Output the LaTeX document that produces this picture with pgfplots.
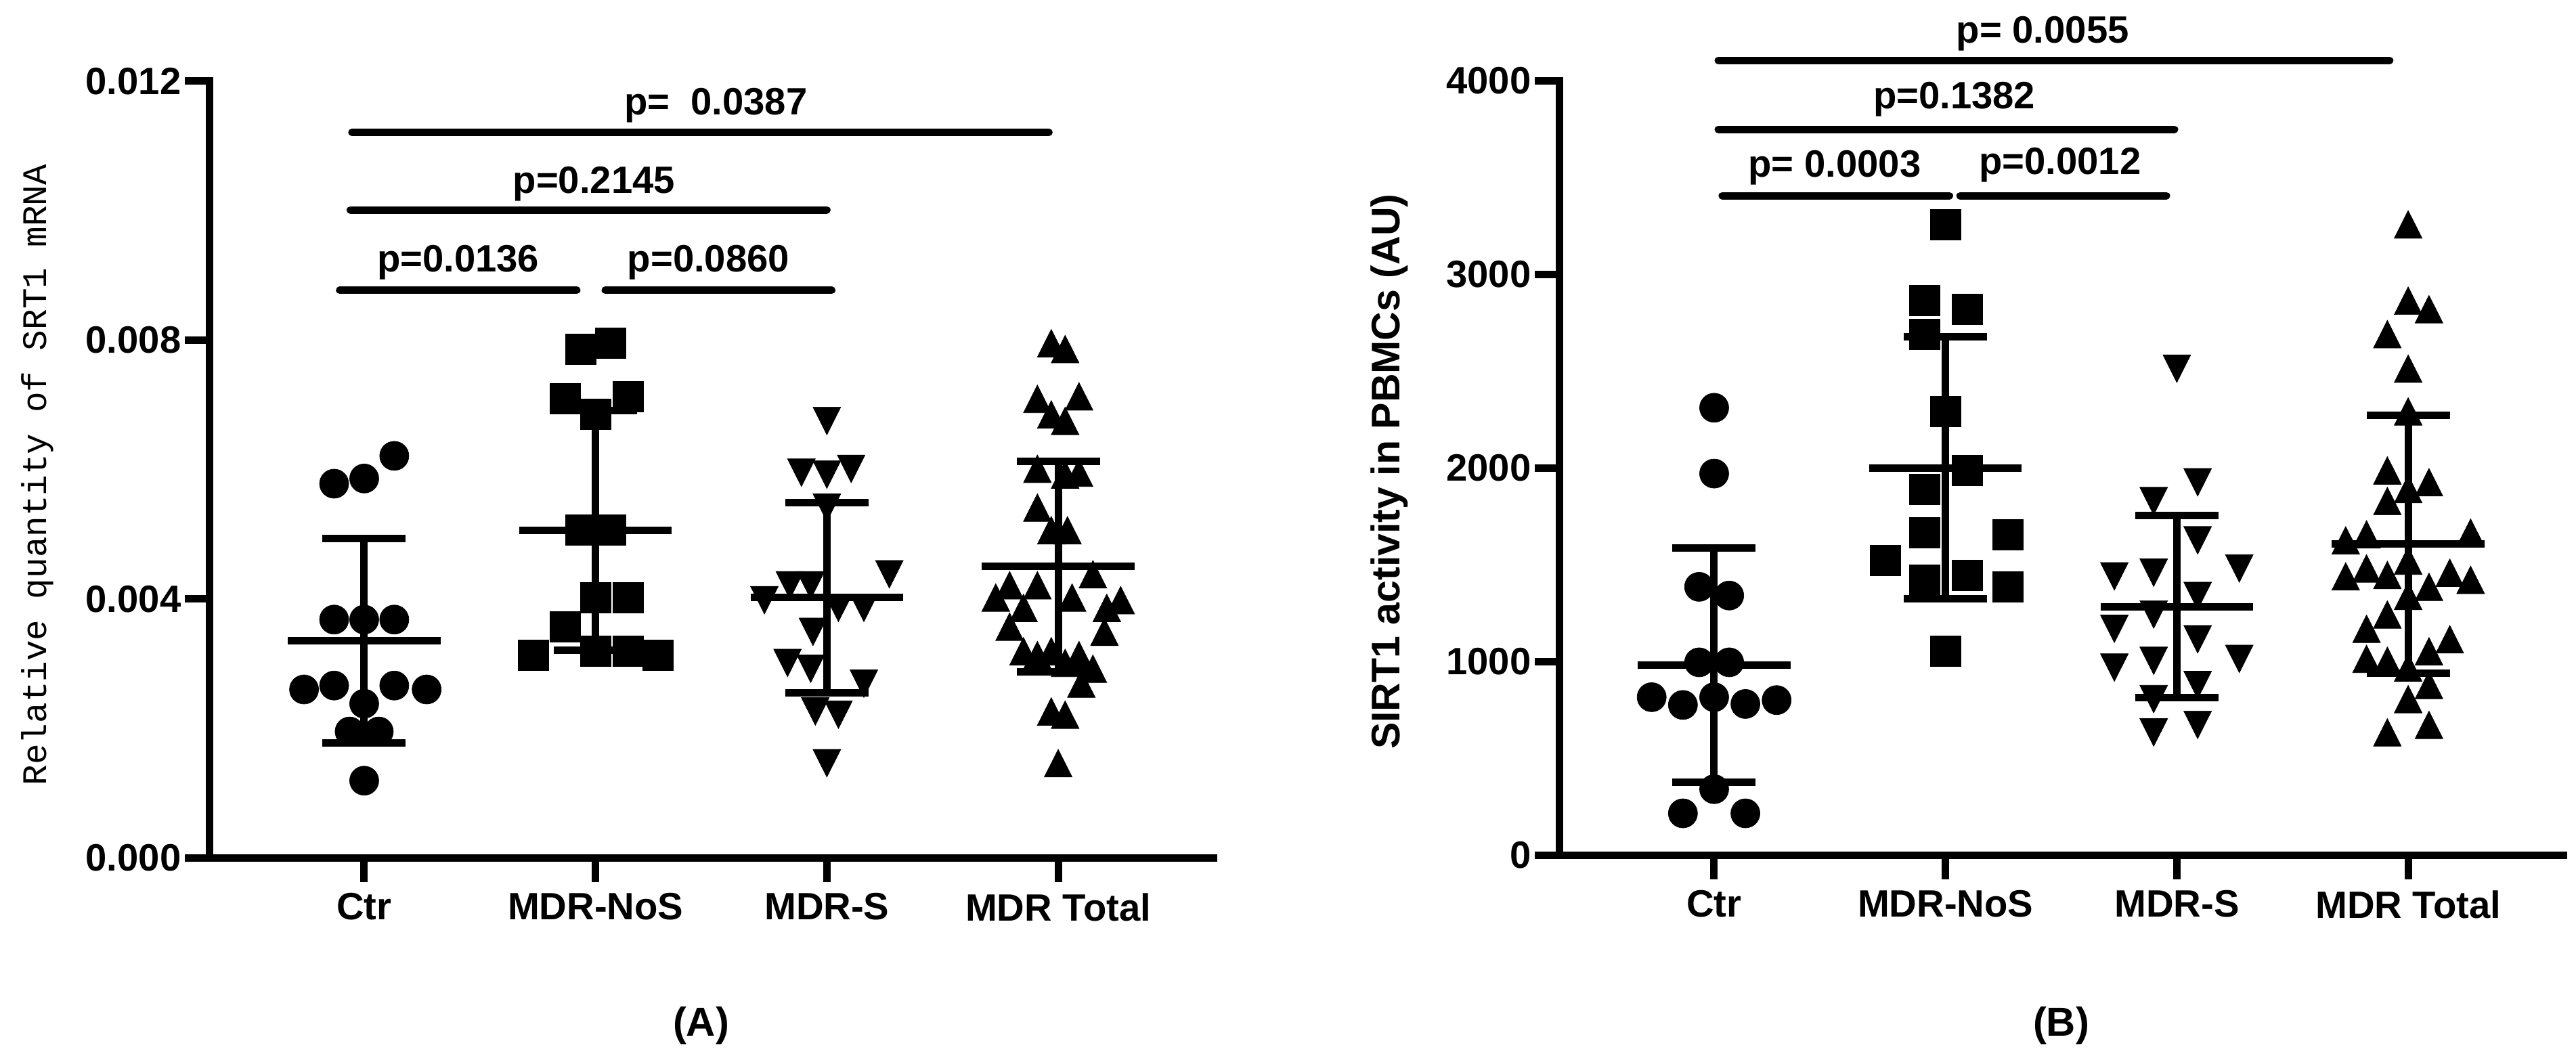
\documentclass[border=0pt]{standalone}
\usepackage{fontspec}
\setmainfont{Liberation Sans}
\newfontfamily\monofont{Liberation Mono}
\usepackage{pgfplots}
\pgfplotsset{compat=1.18}
\usetikzlibrary{plotmarks}

\newcommand{\lbl}{\fontsize{16}{19}\selectfont\bfseries}

\pgfplotsset{
  gp/.style={
    scale only axis, width=148.3mm,
    xmin=0.33, xmax=4.67, ymin=0,
    axis lines=left,
    axis line style={-, line width=1.1mm, line cap=rect},
    xtick={1,2,3,4},
    xticklabels={\textbf{Ctr},\textbf{MDR-NoS},\textbf{MDR-S},\textbf{MDR Total}},
    tick align=outside, major tick length=3.6mm,
    tick style={line width=1.1mm, black},
    ticklabel style={font=\lbl},
    xticklabel style={inner sep=0pt, yshift=-1.6mm},
    yticklabel style={inner sep=0.5mm},
    scaled y ticks=false,
    clip=false,
  },
  dot/.style={only marks, mark=*, mark size=2.15mm,
    mark options={fill=black, draw=black, line width=0.2pt}},
  sq/.style={only marks, mark=square*, mark size=2.25mm,
    mark options={fill=black, draw=black, line width=0.2pt}},
  tup/.style={only marks, mark=triangle*, mark size=2.37mm,
    mark options={yshift=-0.68mm, yscale=1.15, fill=black, draw=black, line width=0.2pt}},
  tdn/.style={only marks, mark=triangle*, mark size=2.37mm,
    mark options={yshift=0.68mm, rotate=180, yscale=1.15, fill=black, draw=black, line width=0.2pt}},
  bar/.style={line width=1.1mm, mark=none, black},
  sig/.style={line width=1.1mm, line cap=round, mark=none, black},
}

\begin{document}
\begin{tikzpicture}
\useasboundingbox (0,-28.9mm) rectangle (380.5mm,126.7mm);

% ---------------- (A) ----------------
\begin{axis}[gp, at={(30.9mm,0mm)}, anchor=south west,
  height=114.7mm, ymax=0.012,
  ytick={0,0.004,0.008,0.012},
  yticklabels={\textbf{0.000},\textbf{0.004},\textbf{0.008},\textbf{0.012}},
  ylabel={Relative quantity of SRT1 mRNA},
  every axis y label/.style={at={(axis description cs:-0.171,0.493)},
    rotate=90, anchor=center, font=\monofont\fontsize{14.5}{17}\selectfont},
]
% Ctr
\addplot[dot] coordinates {
 (0.87,0.00578) (1.00,0.00586) (1.13,0.00621)
 (0.87,0.00368) (1.00,0.00368) (1.13,0.00368)
 (0.74,0.00260) (0.87,0.00266) (1.13,0.00266) (1.27,0.00260)
 (1.00,0.00238) (0.937,0.00195) (1.063,0.00195) (1.00,0.00119)};
% MDR-NoS
\addplot[sq] coordinates {
 (1.935,0.00786) (2.065,0.00795) (1.87,0.00709) (2.14,0.00713) (2.00,0.00685)
 (1.935,0.00506) (2.065,0.00506) (2.00,0.00402) (2.14,0.00402) (1.87,0.00357)
 (1.73,0.00313) (2.00,0.00319) (2.14,0.00319) (2.27,0.00313)};
% MDR-S
\addplot[tdn] coordinates {
 (3.00,0.00675) (2.89,0.00595) (3.00,0.00592) (3.105,0.00601) (3.00,0.00541)
 (3.27,0.00438) (2.73,0.00398) (2.84,0.00421) (2.93,0.00421) (3.05,0.00386)
 (3.16,0.00386) (2.94,0.00349) (2.83,0.00301) (2.93,0.00292) (3.16,0.00269)
 (2.95,0.00226) (3.05,0.00221) (3.00,0.00146)};
% MDR Total
\addplot[tup] coordinates {
 (3.97,0.00795) (4.03,0.00786) (4.09,0.00713) (3.91,0.00709) (3.97,0.00685)
 (4.03,0.00675) (3.91,0.00601) (4.09,0.00595) (4.03,0.00592) (3.91,0.00541)
 (3.97,0.00506) (4.04,0.00506) (4.15,0.00438) (3.91,0.00421) (3.79,0.00421)
 (3.73,0.00402) (4.06,0.00402) (4.27,0.00398) (3.85,0.00386) (4.21,0.00386)
 (3.79,0.00357) (4.20,0.00349) (3.85,0.00319) (3.97,0.00319) (4.09,0.00313)
 (3.91,0.00313) (4.03,0.00301) (4.15,0.00292) (4.10,0.00269) (3.97,0.00226)
 (4.03,0.00221) (4.00,0.00146)};
% mean +- SD
\addplot[bar] coordinates {(0.67,0.00335) (1.33,0.00335)};
\addplot[bar] coordinates {(0.82,0.00493) (1.18,0.00493)};
\addplot[bar] coordinates {(0.82,0.00177) (1.18,0.00177)};
\addplot[bar] coordinates {(1,0.00177) (1,0.00493)};
\addplot[bar] coordinates {(1.67,0.00506) (2.33,0.00506)};
\addplot[bar] coordinates {(1.82,0.00691) (2.18,0.00691)};
\addplot[bar] coordinates {(1.82,0.00321) (2.18,0.00321)};
\addplot[bar] coordinates {(2,0.00321) (2,0.00691)};
\addplot[bar] coordinates {(2.67,0.00402) (3.33,0.00402)};
\addplot[bar] coordinates {(2.82,0.00549) (3.18,0.00549)};
\addplot[bar] coordinates {(2.82,0.00255) (3.18,0.00255)};
\addplot[bar] coordinates {(3,0.00255) (3,0.00549)};
\addplot[bar] coordinates {(3.67,0.00450) (4.33,0.00450)};
\addplot[bar] coordinates {(3.82,0.00613) (4.18,0.00613)};
\addplot[bar] coordinates {(3.82,0.00287) (4.18,0.00287)};
\addplot[bar] coordinates {(4,0.00287) (4,0.00613)};
% significance
\addplot[sig] coordinates {(0.894,0.00877) (1.919,0.00877)};
\addplot[sig] coordinates {(2.042,0.00877) (3.021,0.00877)};
\addplot[sig] coordinates {(0.94,0.01001) (3.00,0.01001)};
\addplot[sig] coordinates {(0.947,0.01121) (3.96,0.01121)};
\node[font=\lbl, anchor=base] at (axis cs:1.406,0.00906) {p=0.0136};
\node[font=\lbl, anchor=base] at (axis cs:2.488,0.00906) {p=0.0860};
\node[font=\lbl, anchor=base] at (axis cs:1.993,0.01027) {p=0.2145};
\node[font=\lbl, anchor=base] at (axis cs:2.52,0.01148) {p=\hspace{0.55em}0.0387};
\node[font=\fontsize{17}{20}\selectfont\bfseries] at (rel axis cs:0.5,0) [xshift=-1.5mm, yshift=-24.8mm] {(A)};
\end{axis}

% ---------------- (B) ----------------
\begin{axis}[gp, at={(230.3mm,0.4mm)}, anchor=south west,
  height=114.4mm, ymax=4000,
  ytick={0,1000,2000,3000,4000},
  yticklabels={\textbf{0},\textbf{1000},\textbf{2000},\textbf{3000},\textbf{4000}},
  ylabel={SIRT1 activity in PBMCs (AU)},
  every axis y label/.style={at={(axis description cs:-0.169,0.495)},
    rotate=90, anchor=center, font=\fontsize{16.8}{19}\selectfont\bfseries},
]
% Ctr
\addplot[dot] coordinates {
 (1.00,2310) (1.00,1970) (0.935,1385) (1.065,1340) (0.935,995) (1.065,995)
 (0.73,815) (0.865,775) (1.00,815) (1.135,780) (1.27,800)
 (1.00,340) (0.865,215) (1.135,215)};
% MDR-NoS
\addplot[sq] coordinates {
 (2.00,3257) (1.91,2863) (2.095,2819) (1.91,2690) (2.00,2291) (2.095,1986)
 (1.91,1890) (1.91,1665) (2.27,1656) (1.74,1520) (1.91,1421) (2.095,1446)
 (2.27,1385) (2.00,1052)};
% MDR-S
\addplot[tdn] coordinates {
 (3.00,2512) (3.09,1925) (2.90,1828) (3.09,1625) (3.27,1480) (2.73,1439)
 (2.90,1458) (3.09,1338) (2.90,1242) (3.09,1114) (2.73,1168) (3.27,1013)
 (2.73,968) (2.90,1003) (3.09,878) (2.90,805) (3.09,672) (2.90,633)};
% MDR Total
\addplot[tup] coordinates {
 (4.00,3257) (4.00,2863) (4.09,2819) (3.91,2690) (4.00,2512) (4.00,2291)
 (3.91,1986) (4.09,1925) (4.00,1890) (3.91,1828) (4.27,1665) (3.82,1656)
 (3.73,1625) (4.00,1520) (3.82,1480) (4.18,1458) (3.91,1446) (3.73,1439)
 (4.27,1421) (4.09,1385) (4.00,1338) (3.91,1242) (3.82,1168) (4.18,1114)
 (4.09,1052) (3.82,1013) (3.91,1003) (4.00,968) (4.09,878) (4.00,805)
 (4.09,672) (3.91,633)};
% mean +- SD
\addplot[bar] coordinates {(0.67,980) (1.33,980)};
\addplot[bar] coordinates {(0.82,1585) (1.18,1585)};
\addplot[bar] coordinates {(0.82,375) (1.18,375)};
\addplot[bar] coordinates {(1,375) (1,1585)};
\addplot[bar] coordinates {(1.67,2000) (2.33,2000)};
\addplot[bar] coordinates {(1.82,2678) (2.18,2678)};
\addplot[bar] coordinates {(1.82,1322) (2.18,1322)};
\addplot[bar] coordinates {(2,1322) (2,2678)};
\addplot[bar] coordinates {(2.67,1283) (3.33,1283)};
\addplot[bar] coordinates {(2.82,1753) (3.18,1753)};
\addplot[bar] coordinates {(2.82,813) (3.18,813)};
\addplot[bar] coordinates {(3,813) (3,1753)};
\addplot[bar] coordinates {(3.67,1605) (4.33,1605)};
\addplot[bar] coordinates {(3.82,2272) (4.18,2272)};
\addplot[bar] coordinates {(3.82,938) (4.18,938)};
\addplot[bar] coordinates {(4,938) (4,2272)};
% significance
\addplot[sig] coordinates {(1.035,3405) (2.017,3405)};
\addplot[sig] coordinates {(2.063,3405) (2.955,3405)};
\addplot[sig] coordinates {(1.018,3748) (2.99,3748)};
\addplot[sig] coordinates {(1.018,4104) (3.92,4104)};
\node[font=\lbl, anchor=base] at (axis cs:1.521,3502) {p= 0.0003};
\node[font=\lbl, anchor=base] at (axis cs:2.495,3516) {p=0.0012};
\node[font=\lbl, anchor=base] at (axis cs:2.038,3855) {p=0.1382};
\node[font=\lbl, anchor=base] at (axis cs:2.42,4194) {p= 0.0055};
\node[font=\fontsize{17}{20}\selectfont\bfseries] at (rel axis cs:0.5,0) [yshift=-25.2mm] {(B)};
\end{axis}
\end{tikzpicture}
\end{document}
